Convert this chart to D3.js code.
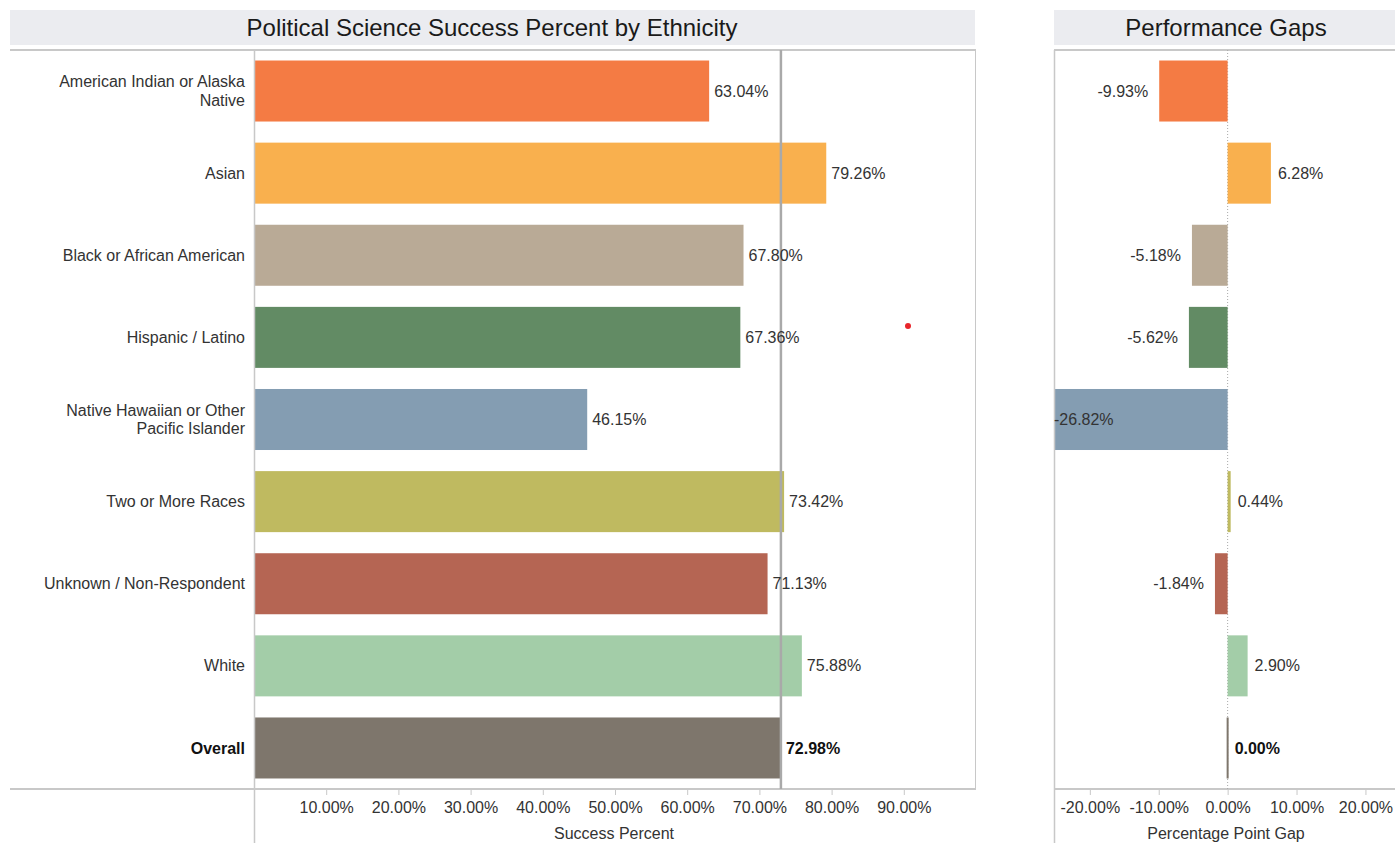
<!DOCTYPE html>
<html>
<head>
<meta charset="utf-8">
<script src="https://cdn.jsdelivr.net/npm/d3@7"></script>
<style>
  body { margin: 0; background: #fff; }
  svg { font-family: "Liberation Sans", Arial, sans-serif; }
</style>
</head>
<body>
<div id="chart"></div>
<script>
// data
const categories = [
  'American Indian or Alaska Native', 'Asian', 'Black or African American',
  'Hispanic / Latino', 'Native Hawaiian or Other Pacific Islander',
  'Two or More Races', 'Unknown / Non-Respondent', 'White', 'Overall'
];
const labelLines = [
  ['American Indian or Alaska', 'Native'], ['Asian'], ['Black or African American'],
  ['Hispanic / Latino'], ['Native Hawaiian or Other', 'Pacific Islander'],
  ['Two or More Races'], ['Unknown / Non-Respondent'], ['White'], ['Overall']
];
const successPct = [63.04, 79.26, 67.80, 67.36, 46.15, 73.42, 71.13, 75.88, 72.98];
const gapPct = [-9.93, 6.28, -5.18, -5.62, -26.82, 0.44, -1.84, 2.90, 0.00];
const colors = ['#f47b44', '#f9b04e', '#b9aa96', '#628b64', '#849db2',
                '#bfba60', '#b56553', '#a3cda8', '#7e766c'];
const successTicks = [10, 20, 30, 40, 50, 60, 70, 80, 90];
const gapTicks = [-20, -10, 0, 10, 20];
const overallValue = 72.98;

const W = 1395, H = 843;
const plotTop = 50, plotBottom = 789;
const grid = '#c8c8c8';
const fs = 16;
const fmt = d => d.toFixed(2) + '%';

const svg = d3.select('#chart').append('svg')
    .attr('width', W).attr('height', H);

const y = d3.scaleBand()
    .domain(categories)
    .range([plotTop, plotBottom])
    .paddingInner(0.257)
    .paddingOuter(0.128);

// ---------- left panel ----------
const x = d3.scaleLinear().domain([0, 100]).range([254, 976]);

svg.append('rect').attr('x', 10).attr('y', 10).attr('width', 965).attr('height', 35).attr('fill', '#ebecf0');
svg.append('text').attr('x', 492).attr('y', 36).attr('text-anchor', 'middle')
    .attr('font-size', 24).attr('fill', '#1a1a1a')
    .text('Political Science Success Percent by Ethnicity');

const left = svg.append('g');
left.append('line').attr('x1', 10).attr('x2', 976).attr('y1', plotTop).attr('y2', plotTop).attr('stroke', grid).attr('stroke-width', 2);
left.append('line').attr('x1', 10).attr('x2', 976).attr('y1', plotBottom).attr('y2', plotBottom).attr('stroke', grid).attr('stroke-width', 2);
left.append('line').attr('x1', 975.5).attr('x2', 975.5).attr('y1', plotTop).attr('y2', plotBottom).attr('stroke', grid);

left.selectAll('rect.bar').data(successPct).join('rect')
    .attr('class', 'bar')
    .attr('x', x(0)).attr('y', (d, i) => y(categories[i]))
    .attr('width', d => x(d) - x(0)).attr('height', y.bandwidth())
    .attr('fill', (d, i) => colors[i]);

left.append('line').attr('x1', 254.5).attr('x2', 254.5).attr('y1', plotTop).attr('y2', H).attr('stroke', grid).attr('stroke-width', 1.5);

// reference line at overall
left.append('line').attr('x1', x(overallValue)).attr('x2', x(overallValue))
    .attr('y1', plotTop).attr('y2', plotBottom).attr('stroke', '#a9a9a9').attr('stroke-width', 2.5);

left.selectAll('text.val').data(successPct).join('text')
    .attr('class', 'val')
    .attr('x', d => x(d) + 5).attr('y', (d, i) => y(categories[i]) + y.bandwidth() / 2)
    .attr('dy', '0.35em').attr('font-size', fs)
    .attr('font-weight', (d, i) => i === 8 ? 'bold' : null)
    .attr('fill', (d, i) => i === 8 ? '#111' : '#333')
    .text(fmt);

// category labels
const cat = left.selectAll('text.cat').data(labelLines).join('text')
    .attr('class', 'cat')
    .attr('text-anchor', 'end').attr('font-size', fs)
    .attr('font-weight', (d, i) => i === 8 ? 'bold' : null)
    .attr('fill', (d, i) => i === 8 ? '#111' : '#333')
    .attr('y', (d, i) => y(categories[i]) + y.bandwidth() / 2);
cat.selectAll('tspan').data(d => d.map((t, j) => ({ t, j, n: d.length }))).join('tspan')
    .attr('x', 245)
    .attr('dy', d => d.j === 0 ? (0.35 - (d.n - 1) * 0.575) + 'em' : '1.15em')
    .text(d => d.t);

// x axis
const xAxis = left.append('g').attr('transform', `translate(0,${plotBottom})`)
    .call(d3.axisBottom(x).tickValues(successTicks).tickSize(6).tickPadding(7).tickFormat(fmt));
xAxis.select('.domain').remove();
xAxis.selectAll('line').attr('stroke', grid);
xAxis.selectAll('text').attr('font-size', fs).attr('fill', '#333').attr('font-family', null);
left.append('text').attr('x', 614).attr('y', 839).attr('text-anchor', 'middle')
    .attr('font-size', fs).attr('fill', '#333').text('Success Percent');

// stray marker
left.append('circle').attr('cx', 908).attr('cy', 326).attr('r', 3).attr('fill', '#e8262b');

// ---------- right panel ----------
const gx = d3.scaleLinear().domain([-25.2, 24]).range([1054, 1393]);

svg.append('rect').attr('x', 1054).attr('y', 10).attr('width', 341).attr('height', 35).attr('fill', '#ebecf0');
svg.append('text').attr('x', 1226).attr('y', 36).attr('text-anchor', 'middle')
    .attr('font-size', 24).attr('fill', '#1a1a1a').text('Performance Gaps');

const right = svg.append('g');
svg.append('clipPath').attr('id', 'gapClip').append('rect')
    .attr('x', 1054).attr('y', plotTop).attr('width', 341).attr('height', plotBottom - plotTop);

right.append('line').attr('x1', 1054).attr('x2', W).attr('y1', plotTop).attr('y2', plotTop).attr('stroke', grid).attr('stroke-width', 2);
right.append('line').attr('x1', 1054).attr('x2', W).attr('y1', plotBottom).attr('y2', plotBottom).attr('stroke', grid).attr('stroke-width', 2);

right.append('line').attr('x1', gx(0)).attr('x2', gx(0)).attr('y1', plotTop).attr('y2', plotBottom)
    .attr('stroke', '#aaa').attr('stroke-dasharray', '1,2');

right.append('g').attr('clip-path', 'url(#gapClip)')
  .selectAll('rect').data(gapPct).join('rect')
    .attr('x', d => Math.min(gx(d), gx(0)) - (d === 0 ? 1 : 0))
    .attr('y', (d, i) => y(categories[i]))
    .attr('width', d => Math.max(Math.abs(gx(d) - gx(0)), 2))
    .attr('height', y.bandwidth())
    .attr('fill', (d, i) => colors[i]);

right.append('line').attr('x1', 1054.5).attr('x2', 1054.5).attr('y1', plotTop).attr('y2', H).attr('stroke', grid).attr('stroke-width', 1.5);

right.selectAll('text.val').data(gapPct).join('text')
    .attr('class', 'val')
    .attr('y', (d, i) => y(categories[i]) + y.bandwidth() / 2)
    .attr('dy', '0.35em').attr('font-size', fs)
    .attr('font-weight', (d, i) => i === 8 ? 'bold' : null)
    .attr('fill', (d, i) => i === 8 ? '#111' : '#333')
    .each(function (d) {
      const t = d3.select(this);
      if (d >= 0) t.attr('x', gx(d) + 7).attr('text-anchor', 'start');
      else if (gx(d) - 70 < 1054) t.attr('x', 1054).attr('text-anchor', 'start');
      else t.attr('x', gx(d) - 11).attr('text-anchor', 'end');
    })
    .text(fmt);

const gAxis = right.append('g').attr('transform', `translate(0,${plotBottom})`)
    .call(d3.axisBottom(gx).tickValues(gapTicks).tickSize(6).tickPadding(7).tickFormat(fmt));
gAxis.select('.domain').remove();
gAxis.selectAll('line').attr('stroke', grid);
gAxis.selectAll('text').attr('font-size', fs).attr('fill', '#333').attr('font-family', null);
right.append('text').attr('x', 1226).attr('y', 839).attr('text-anchor', 'middle')
    .attr('font-size', fs).attr('fill', '#333').text('Percentage Point Gap');
</script>
</body>
</html>
